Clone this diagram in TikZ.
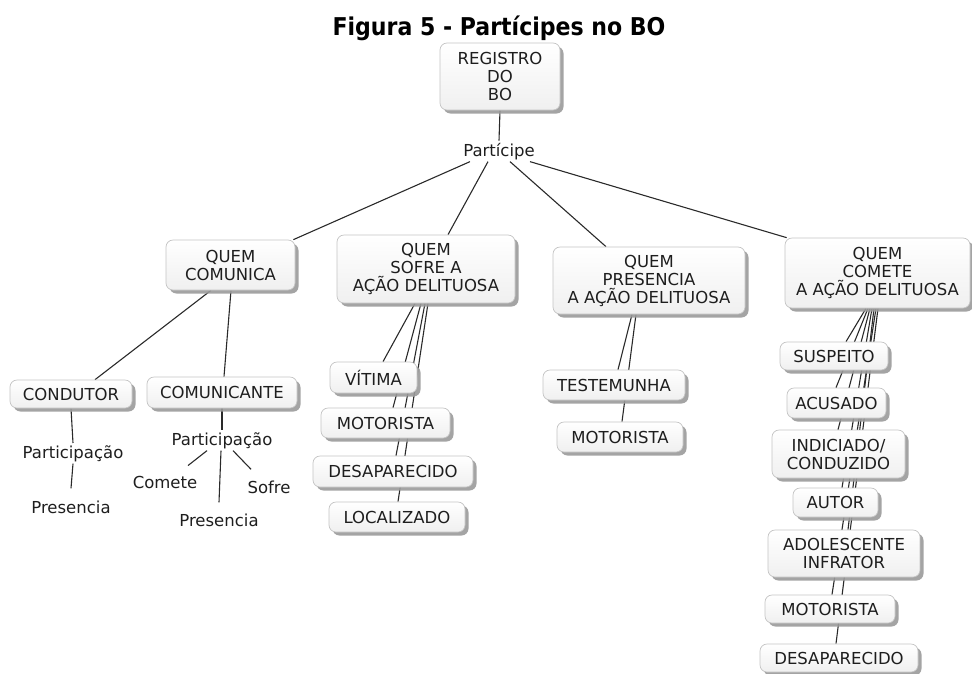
\documentclass[tikz,border=0pt]{standalone}
\usepackage{fontspec}
\setmainfont{DejaVu Sans}
\newfontfamily\headfont{DejaVu Sans Condensed}
\usetikzlibrary{shadows,backgrounds}

\definecolor{ink}{HTML}{1E1E1E}
\definecolor{edge}{HTML}{2A2A2A}
\definecolor{frame}{HTML}{C4C4C4}
\definecolor{shade}{HTML}{9A9A9A}

\newcommand{\dgfont}{\fontsize{16.5}{18}\selectfont}

\tikzset{
  box/.style={rectangle, rounded corners=7pt, draw=frame, line width=0.7pt,
    top color=white, bottom color=black!6,
    drop shadow={shadow xshift=3.5pt, shadow yshift=-3.5pt, fill=shade, opacity=0.9},
    align=center, inner sep=0pt, text=ink, font=\dgfont},
  lbl/.style={anchor=base, inner sep=2pt, text=ink, font=\dgfont},
  link/.style={draw=edge, line width=1.1pt},
}

\begin{document}
\begin{tikzpicture}[x=1pt, y=-1pt]
\useasboundingbox (0,0) rectangle (972,673);

% title
\node[anchor=base, font=\headfont\bfseries\fontsize{24.5}{26}\selectfont, text=black] (title) at (499,35) {Figura 5 - Partícipes no BO};

% root and the connector label
\node[box, minimum width=120pt, minimum height=67pt] (registro) at (500,76.5) {REGISTRO\\DO\\BO};
\node[lbl] (participe) at (499,156) {Partícipe};

% four groups of participants
\node[box, minimum width=129pt, minimum height=50pt] (comunica) at (230.5,265) {QUEM\\COMUNICA};
\node[box, minimum width=178pt, minimum height=68pt] (sofre) at (426,269) {QUEM\\SOFRE A\\AÇÃO DELITUOSA};
\node[box, minimum width=192pt, minimum height=67pt] (presencia) at (649,280.5) {QUEM\\PRESENCIA\\A AÇÃO DELITUOSA};
\node[box, minimum width=185pt, minimum height=70pt] (comete) at (877.5,273) {QUEM\\COMETE\\A AÇÃO DELITUOSA};

% who reports
\node[box, minimum width=122pt, minimum height=28pt] (condutor) at (71,394) {CONDUTOR};
\node[box, minimum width=150pt, minimum height=31pt] (comunicante) at (222,392.5) {COMUNICANTE};
\node[lbl] (partA) at (73,458) {Participação};
\node[lbl] (presA) at (71,513) {Presencia};
\node[lbl] (partB) at (222,445) {Participação};
\node[lbl] (cometeL) at (165,488) {Comete};
\node[lbl] (sofreL) at (269,493) {Sofre};
\node[lbl] (presB) at (219,526) {Presencia};

% who suffers
\node[box, minimum width=87pt, minimum height=31pt] (vitima) at (373.5,377.5) {VÍTIMA};
\node[box, minimum width=129pt, minimum height=30pt] (motoristaS) at (385.5,423) {MOTORISTA};
\node[box, minimum width=160pt, minimum height=31pt] (desapS) at (393,471.5) {DESAPARECIDO};
\node[box, minimum width=136pt, minimum height=30pt] (localizado) at (397,517) {LOCALIZADO};

% who witnesses
\node[box, minimum width=142pt, minimum height=30pt] (testemunha) at (614,385) {TESTEMUNHA};
\node[box, minimum width=126pt, minimum height=30pt] (motoristaP) at (620,437) {MOTORISTA};

% who commits
\node[box, minimum width=108pt, minimum height=28pt] (suspeito) at (834,356) {SUSPEITO};
\node[box, minimum width=99pt, minimum height=30pt] (acusado) at (836.5,403) {ACUSADO};
\node[box, minimum width=133pt, minimum height=48pt] (indiciado) at (838.5,454) {INDICIADO/\\CONDUZIDO};
\node[box, minimum width=85pt, minimum height=29pt] (autor) at (835.5,502.5) {AUTOR};
\node[box, minimum width=152pt, minimum height=47pt] (adolescente) at (844,553.5) {ADOLESCENTE\\INFRATOR};
\node[box, minimum width=130pt, minimum height=28pt] (motoristaC) at (830,609) {MOTORISTA};
\node[box, minimum width=158pt, minimum height=28pt] (desapC) at (839,658) {DESAPARECIDO};

\begin{pgfonlayer}{background}
  % root
  \draw[link] (registro.south) -- (participe.north);
  \draw[link] ([xshift=-29pt]participe.south) -- ([xshift=-2pt]comunica.north east);
  \draw[link] ([xshift=-11pt]participe.south) -- ([xshift=22pt]sofre.north);
  \draw[link] ([xshift=11pt]participe.south) -- ([xshift=-43pt]presencia.north);
  \draw[link] ([xshift=31pt]participe.south) -- ([xshift=2pt]comete.north west);

  % who reports
  \draw[link] ([xshift=-19.5pt]comunica.south) -- ([xshift=24pt]condutor.north);
  \draw[link] ([xshift=0.5pt]comunica.south) -- ([xshift=2pt]comunicante.north);
  \draw[link] (condutor.south) -- (partA.north);
  \draw[link] (partA.south) -- ([yshift=10pt]presA.north);
  \draw[link] (comunicante.south) -- (partB.north);
  \draw[link] ([xshift=-15pt]partB.south) -- ([xshift=23pt,yshift=8pt]cometeL.north);
  \draw[link] ([xshift=-1pt]partB.south) -- ([yshift=9pt]presB.north);
  \draw[link] ([xshift=11pt]partB.south) -- ([xshift=-18pt,yshift=9pt]sofreL.north);

  % who suffers
  \draw[link] ([xshift=-11pt]sofre.south) -- ([xshift=9.5pt]vitima.north);
  \draw[link] ([xshift=-5pt]sofre.south) -- ([xshift=7.5pt]motoristaS.north);
  \draw[link] ([xshift=-1pt]sofre.south) -- ([xshift=3pt]desapS.north);
  \draw[link] ([xshift=2pt]sofre.south) -- ([xshift=1pt]localizado.north);

  % who witnesses
  \draw[link] ([xshift=-17pt]presencia.south) -- ([xshift=4pt]testemunha.north);
  \draw[link] ([xshift=-13pt]presencia.south) -- ([xshift=2pt]motoristaP.north);

  % who commits
  \draw[link] ([xshift=-11.5pt]comete.south) -- ([xshift=12pt]suspeito.north);
  \draw[link] ([xshift=-9.5pt]comete.south) -- ([xshift=-0.5pt]acusado.north);
  \draw[link] ([xshift=-7.5pt]comete.south) -- ([xshift=-0.5pt]indiciado.north);
  \draw[link] ([xshift=-5.5pt]comete.south) -- ([xshift=6.5pt]autor.north);
  \draw[link] ([xshift=-3.5pt]comete.south) -- ([xshift=4pt]adolescente.north);
  \draw[link] ([xshift=-1.5pt]comete.south) -- ([xshift=2pt]motoristaC.north);
  \draw[link] ([xshift=0.5pt]comete.south) -- ([xshift=-3pt]desapC.north);
\end{pgfonlayer}
\end{tikzpicture}
\end{document}
